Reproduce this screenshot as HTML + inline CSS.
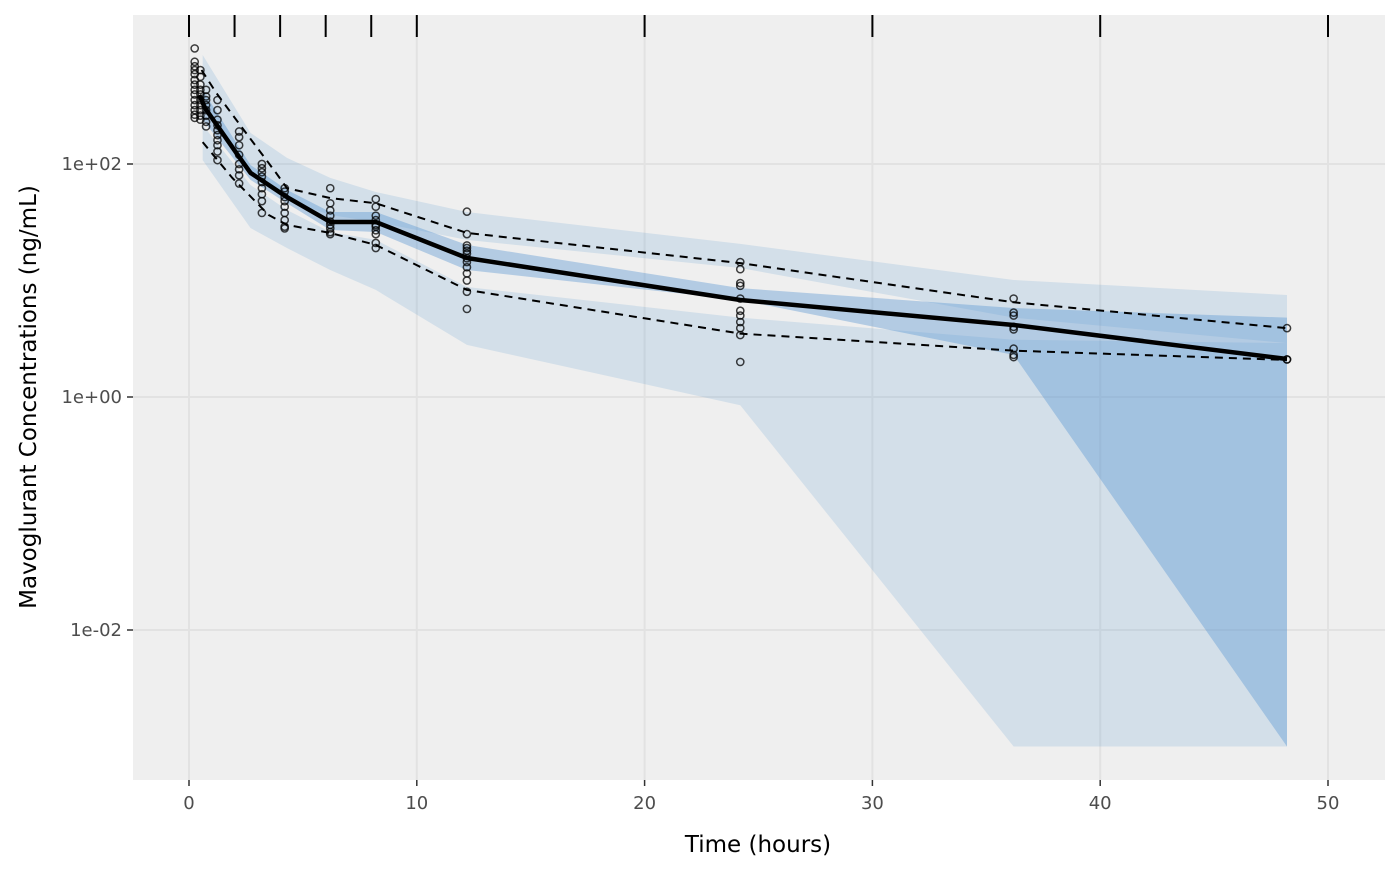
<!DOCTYPE html>
<html><head><meta charset="utf-8"><style>
body{margin:0;background:#fff;}
svg text{font-family:"DejaVu Sans","Liberation Sans",sans-serif;}
</style></head><body>
<svg id="chart" width="1400" height="865" viewBox="0 0 1400 865" xmlns="http://www.w3.org/2000/svg">
<rect x="133" y="15" width="1252" height="765" fill="#efefef"/>
<g id="grid"></g><g id="ribbons"></g><g id="lines"></g><g id="pts"></g><g id="axes"></g>
<text x="758" y="852" text-anchor="middle" font-size="23" fill="#000">Time (hours)</text>
<text transform="translate(36,397) rotate(-90)" text-anchor="middle" font-size="23" fill="#000">Mavoglurant Concentrations (ng/mL)</text>
</svg>
<script>
const xTicks=[0,10,20,30,40,50];
const yTicks=[100,1,0.01];
const yTickLabels=["1e+02","1e+00","1e-02"];
const rugTimes=[0,2,4,6,8,10,20,30,40,50];
const binTimes=[0.6,2.7,4.3,6.2,8.2,12.2,24.2,36.2,48.2];
const hiTop=[863,185,113,76,57.5,38.7,20.6,10.1,7.5];
const hiBot=[354,80.5,49,36.5,31.8,22.3,12.8,4.8,2.9];
const medTop=[432,98,60,38.7,38.7,20.2,8.6,5.8,4.8];
const medBot=[239,73,46,27.1,26.1,12.3,6.8,2.3,0.001];
const loTop=[216,66,40.3,26.1,22.3,8.8,4.8,3.1,2.9];
const loBot=[108,28.2,19,12.3,8.3,2.8,0.85,0.001,0.001];
const medTimes=[0.45,0.7,2.2,2.7,4.3,6.2,8.2,12.2,24.2,36.2,48.2];
const medObs=[391,303,115,84,52,31.8,31.8,15.6,6.8,4.15,2.12];
const upTimes=[0.55,1.2,2.5,3.8,4.3,6.2,8.2,12.2,24.2,36.2,48.2];
const upObs=[641,407,185,85,62,51,46,25.6,14.1,6.5,3.9];
const lowTimes=[0.6,1.9,3.5,4.3,6.2,8.2,12.2,24.2,36.2,48.2];
const lowObs=[154,76,36.5,30,25.6,20.2,8.3,3.5,2.5,2.08];
const obsGroupTimes=[0.25,0.5,0.75,1.25,2.2,3.2,4.2,6.2,8.2,12.2,24.2,36.2,48.2];
const obsGroupValues=[
[982,754,690,640,590,526,480,433,395,354,320,290,265,249],
[640,560,480,433,395,354,320,290,260,240],
[433,380,354,320,290,260,230,210],
[354,290,240,215,195,177,160,145,128,108],
[190,170,145,120,100,90,80,68],
[100,92,85,78,70,62,55,48,38],
[62,58,52,48,43,38,33,29,28],
[62,46,40,36,32,30,28,26,25],
[50,43,36,33,30,29,27,25,21,19],
[39,25,20,19,18,17,15.5,14.4,13,11.5,10,8,5.7],
[14.4,12.5,9.5,9,7,5.5,5,4.4,3.9,3.4,2.0],
[7,5.3,5,4,3.8,2.6,2.3,2.2],
[3.9,2.1,2.1]];

const NS="http://www.w3.org/2000/svg";
const X=t=>189+t*22.78;
const Y=v=>397-116.5*Math.log10(v);
function mk(tag,parent,attrs){const e=document.createElementNS(NS,tag);for(const k in attrs)e.setAttribute(k,attrs[k]);parent.appendChild(e);return e;}
const grid=document.getElementById('grid'),rib=document.getElementById('ribbons'),lines=document.getElementById('lines'),pts=document.getElementById('pts'),axes=document.getElementById('axes');
const MONO='"Liberation Mono","DejaVu Sans Mono",monospace';
xTicks.forEach(t=>{const l=mk('line',grid,{x1:X(t),x2:X(t),y1:15,y2:780,stroke:'#e2e2e2','stroke-width':2});


const tk=mk('line',axes,{x1:X(t),x2:X(t),y1:780,y2:786,stroke:'#333','stroke-width':1.5});


const tx=mk('text',axes,{x:X(t),y:809,'text-anchor':'middle','font-size':18,fill:'#4d4d4d','font-family':MONO});tx.textContent=t;

});
yTicks.forEach((v,i)=>{const l=mk('line',grid,{x1:133,x2:1385,y1:Y(v),y2:Y(v),stroke:'#e2e2e2','stroke-width':2});


const tk=mk('line',axes,{x1:127,x2:133,y1:Y(v),y2:Y(v),stroke:'#333','stroke-width':1.5});


const tx=mk('text',axes,{x:122,y:Y(v)+6,'text-anchor':'end','font-size':18,fill:'#4d4d4d','font-family':MONO});tx.textContent=yTickLabels[i];

});
function ribbon(top,bot,fill,op,name){let d='M'+binTimes.map((t,i)=>X(t)+','+Y(top[i])).join('L');
for(let i=binTimes.length-1;i>=0;i--)d+='L'+X(binTimes[i])+','+Y(bot[i]);
const p=mk('path',rib,{d:d+'Z',fill:fill,'fill-opacity':op});

}
ribbon(hiTop,hiBot,'rgb(100,160,210)',0.2,'upper-percentile-ci-ribbon');
ribbon(loTop,loBot,'rgb(100,160,210)',0.2,'lower-percentile-ci-ribbon');
ribbon(medTop,medBot,'rgb(90,150,210)',0.4,'median-ci-ribbon');
function line(ts,vs,w,dash,name){const p=mk('polyline',lines,{points:ts.map((t,i)=>X(t)+','+Y(vs[i])).join(' '),fill:'none',stroke:'#000','stroke-width':w,'stroke-dasharray':dash,'stroke-linejoin':'round'});

}
line(upTimes,upObs,2,'8,6','observed-95th-percentile-line');
line(lowTimes,lowObs,2,'8,6','observed-5th-percentile-line');
line(medTimes,medObs,4.5,'none','observed-median-line');
obsGroupTimes.forEach((t,g)=>obsGroupValues[g].forEach(v=>{const c=mk('circle',pts,{cx:X(t),cy:Y(v),r:3.6,fill:'none',stroke:'#000','stroke-opacity':0.75,'stroke-width':1.5});

}));
rugTimes.forEach(t=>{const l=mk('line',axes,{x1:X(t),x2:X(t),y1:15,y2:37,stroke:'#000','stroke-width':2});

});
</script>
</body></html>
